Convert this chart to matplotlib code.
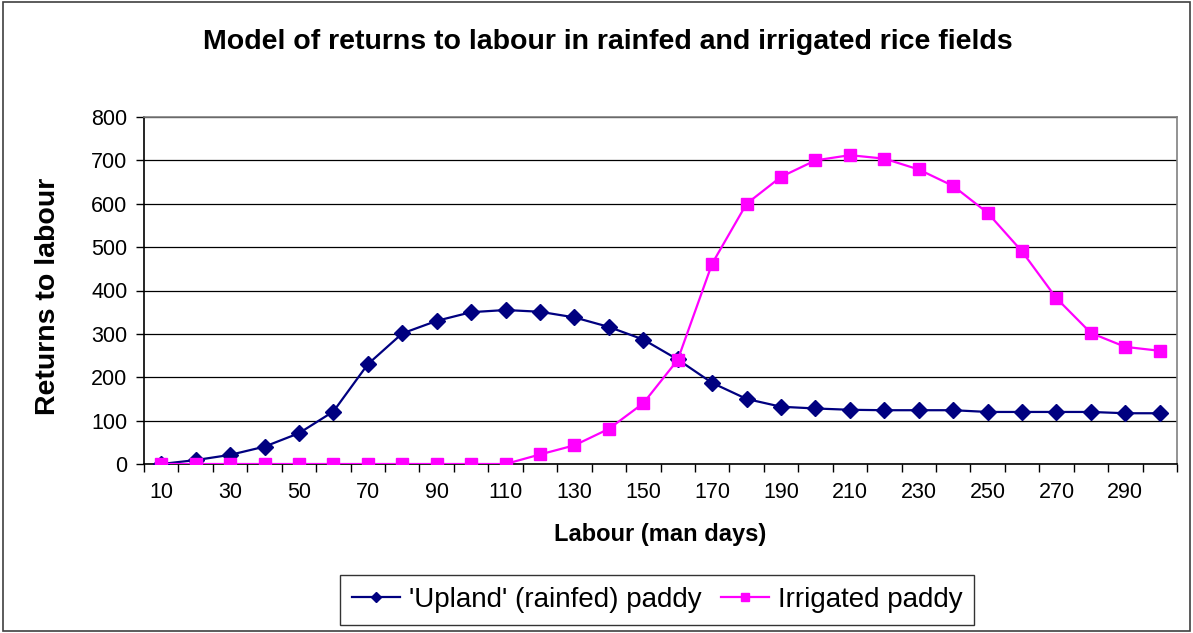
import matplotlib
matplotlib.use("Agg")
import matplotlib.pyplot as plt
from matplotlib.patches import Rectangle

labour = [10, 20, 30, 40, 50, 60, 70, 80, 90, 100, 110, 120, 130, 140, 150,
          160, 170, 180, 190, 200, 210, 220, 230, 240, 250, 260, 270, 280, 290, 300]
upland = [0, 9, 21, 40, 71, 121, 230, 301, 330, 350, 355, 351, 338, 316, 287,
          241, 187, 150, 132, 128, 125, 124, 124, 124, 120, 120, 120, 120, 117, 117]
irrigated = [0, 0, 0, 0, 0, 0, 0, 0, 0, 0, 0, 22, 43, 81, 140,
             240, 462, 600, 662, 700, 712, 704, 679, 641, 579, 490, 382, 302, 270, 261]

title = "Model of returns to labour in rainfed and irrigated rice fields"
xlabel = "Labour (man days)"
ylabel = "Returns to labour"
series_names = ["'Upland' (rainfed) paddy", "Irrigated paddy"]

plt.rcParams['font.family'] = ['Liberation Sans', 'DejaVu Sans']

W, H = 1193, 633
fig = plt.figure(figsize=(W / 100, H / 100), dpi=100)

# outer chart border
fig.patches.append(Rectangle((3 / W, 2 / H), (W - 6) / W, (H - 4) / H,
                             transform=fig.transFigure, fill=False,
                             edgecolor='#404040', linewidth=1.2))

ax = fig.add_axes([144 / W, 1 - 464 / H, (1177 - 144) / W, (464 - 117) / H])

n = len(labour)
xs = list(range(n))
ax.plot(xs, upland, color='#000080', marker='D', markersize=8, linewidth=1.6,
        label=series_names[0], zorder=3)
ax.plot(xs, irrigated, color='#FF00FF', marker='s', markersize=8, linewidth=1.6,
        label=series_names[1], zorder=4)

ax.set_xlim(-0.5, n - 0.5)
ax.set_ylim(0, 800)
ax.set_yticks(range(0, 801, 100))
ax.yaxis.grid(True, color='black', linewidth=0.9)
ax.set_axisbelow(True)

# category ticks at boundaries, labels every other category
ax.set_xticks([i - 0.5 for i in range(n + 1)], minor=False)
ax.set_xticklabels([])
ax.set_xticks(xs[::2], minor=True)
ax.set_xticklabels([str(v) for v in labour[::2]], minor=True)
ax.tick_params(axis='x', which='major', direction='out', length=6, width=1, color='black')
ax.tick_params(axis='x', which='minor', length=0, labelsize=15.5, pad=13)
ax.tick_params(axis='y', direction='out', length=6, width=1, labelsize=15.5, pad=6)

for s in ['top', 'right']:
    ax.spines[s].set_color('#808080')
    ax.spines[s].set_linewidth(1.2)
for s in ['left', 'bottom']:
    ax.spines[s].set_color('black')
    ax.spines[s].set_linewidth(1.2)

fig.text(0.5 * (195 + 1020) / W, 1 - 42 / H, title, ha='center', va='center',
         fontsize=20.5, fontweight='bold')
fig.text(660 / W, 1 - 534 / H, xlabel, ha='center', va='center',
         fontsize=17, fontweight='bold')
fig.text(48 / W, 1 - 296 / H, ylabel, ha='center', va='center', rotation=90,
         fontsize=20.5, fontweight='bold')

leg = fig.legend(loc='center', bbox_to_anchor=(657 / W, 1 - 600 / H),
                 ncol=2, frameon=True, fancybox=False, fontsize=20,
                 handlelength=1.75, handletextpad=0.3, columnspacing=0.7,
                 borderpad=0.42, borderaxespad=0, markerscale=0.7)
leg.get_frame().set_edgecolor('black')
leg.get_frame().set_linewidth(1.0)

fig.savefig("out.png", dpi=100)
